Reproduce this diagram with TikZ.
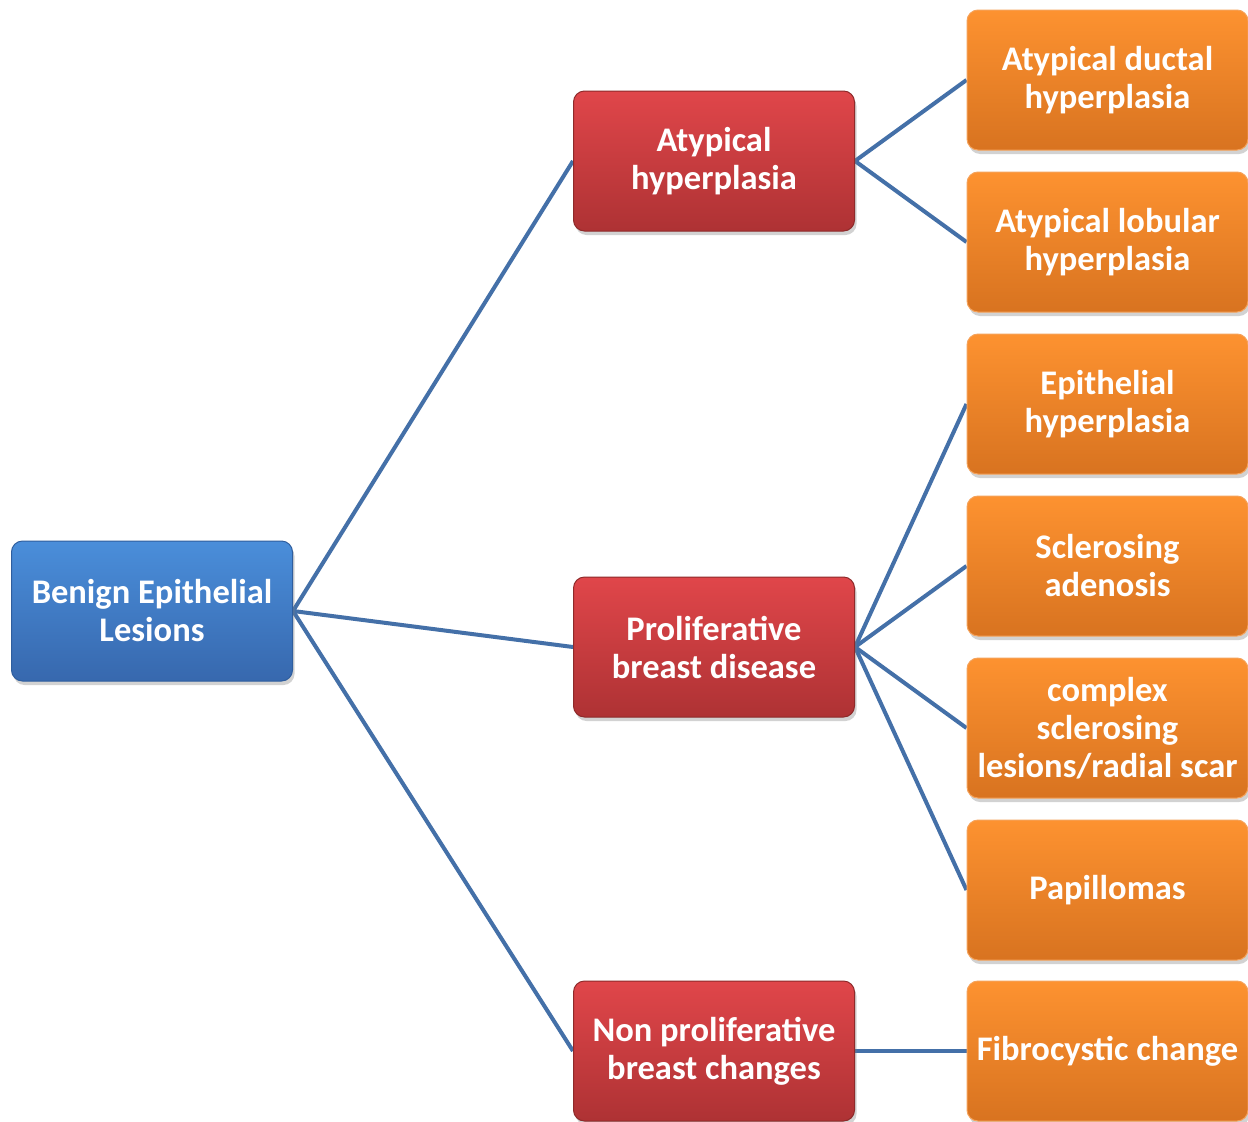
\documentclass[tikz,border=0pt]{standalone}
\usepackage{fontspec}
\setmainfont{Carlito}
\usetikzlibrary{shadows,backgrounds}
\tikzset{
  basebox/.style={rounded corners=11pt, minimum width=281pt, minimum height=140pt,
    align=center, text=white, inner sep=0pt,
    font=\fontsize{34.5}{38}\selectfont\bfseries,
    drop shadow={opacity=0.35, shadow xshift=2pt, shadow yshift=-4pt}},
  bluebox/.style={basebox, top color=blue1, bottom color=blue2, draw=blue3, line width=1pt},
  redbox/.style={basebox, top color=red1, bottom color=red2, draw=red3, line width=1pt},
  orangebox/.style={basebox, top color=orange1, bottom color=orange2, draw=orange3, line width=1pt},
  link/.style={draw=linkc, line width=4pt}
}
\definecolor{blue1}{HTML}{4A8EDA}
\definecolor{blue2}{HTML}{3768AE}
\definecolor{blue3}{HTML}{2F5E9E}
\definecolor{red1}{HTML}{E0464A}
\definecolor{red2}{HTML}{AE3234}
\definecolor{red3}{HTML}{8E2A2A}
\definecolor{orange1}{HTML}{FD9230}
\definecolor{orange2}{HTML}{D87320}
\definecolor{orange3}{HTML}{F5A25A}
\definecolor{linkc}{HTML}{4470A8}
\begin{document}
\begin{tikzpicture}[x=1pt,y=-1pt]
\useasboundingbox (0,0) rectangle (1248,1122);
% nodes
\node[bluebox] (root) at (152,611) {Benign Epithelial\\Lesions};
\node[redbox] (ah) at (714,161) {Atypical\\hyperplasia};
\node[redbox] (pbd) at (714,647) {Proliferative\\breast disease};
\node[redbox] (npb) at (714,1051) {Non proliferative\\breast changes};
\node[orangebox] (adh) at (1107.5,80) {Atypical ductal\\hyperplasia};
\node[orangebox] (alh) at (1107.5,242) {Atypical lobular\\hyperplasia};
\node[orangebox] (eh) at (1107.5,404) {Epithelial\\hyperplasia};
\node[orangebox] (sa) at (1107.5,566) {Sclerosing\\adenosis};
\node[orangebox] (csl) at (1107.5,728) {complex\\sclerosing\\lesions/radial scar};
\node[orangebox] (pap) at (1107.5,890) {Papillomas};
\node[orangebox] (fc) at (1107.5,1051) {Fibrocystic change};
% links
\begin{scope}[on background layer]
\fill[white] (0,0) rectangle (1248,1122);
\draw[link] (root.east) -- (ah.west);
\draw[link] (root.east) -- (pbd.west);
\draw[link] (root.east) -- (npb.west);
\draw[link] (ah.east) -- (adh.west);
\draw[link] (ah.east) -- (alh.west);
\draw[link] (pbd.east) -- (eh.west);
\draw[link] (pbd.east) -- (sa.west);
\draw[link] (pbd.east) -- (csl.west);
\draw[link] (pbd.east) -- (pap.west);
\draw[link] (npb.east) -- (fc.west);
\end{scope}
\end{tikzpicture}
\end{document}
